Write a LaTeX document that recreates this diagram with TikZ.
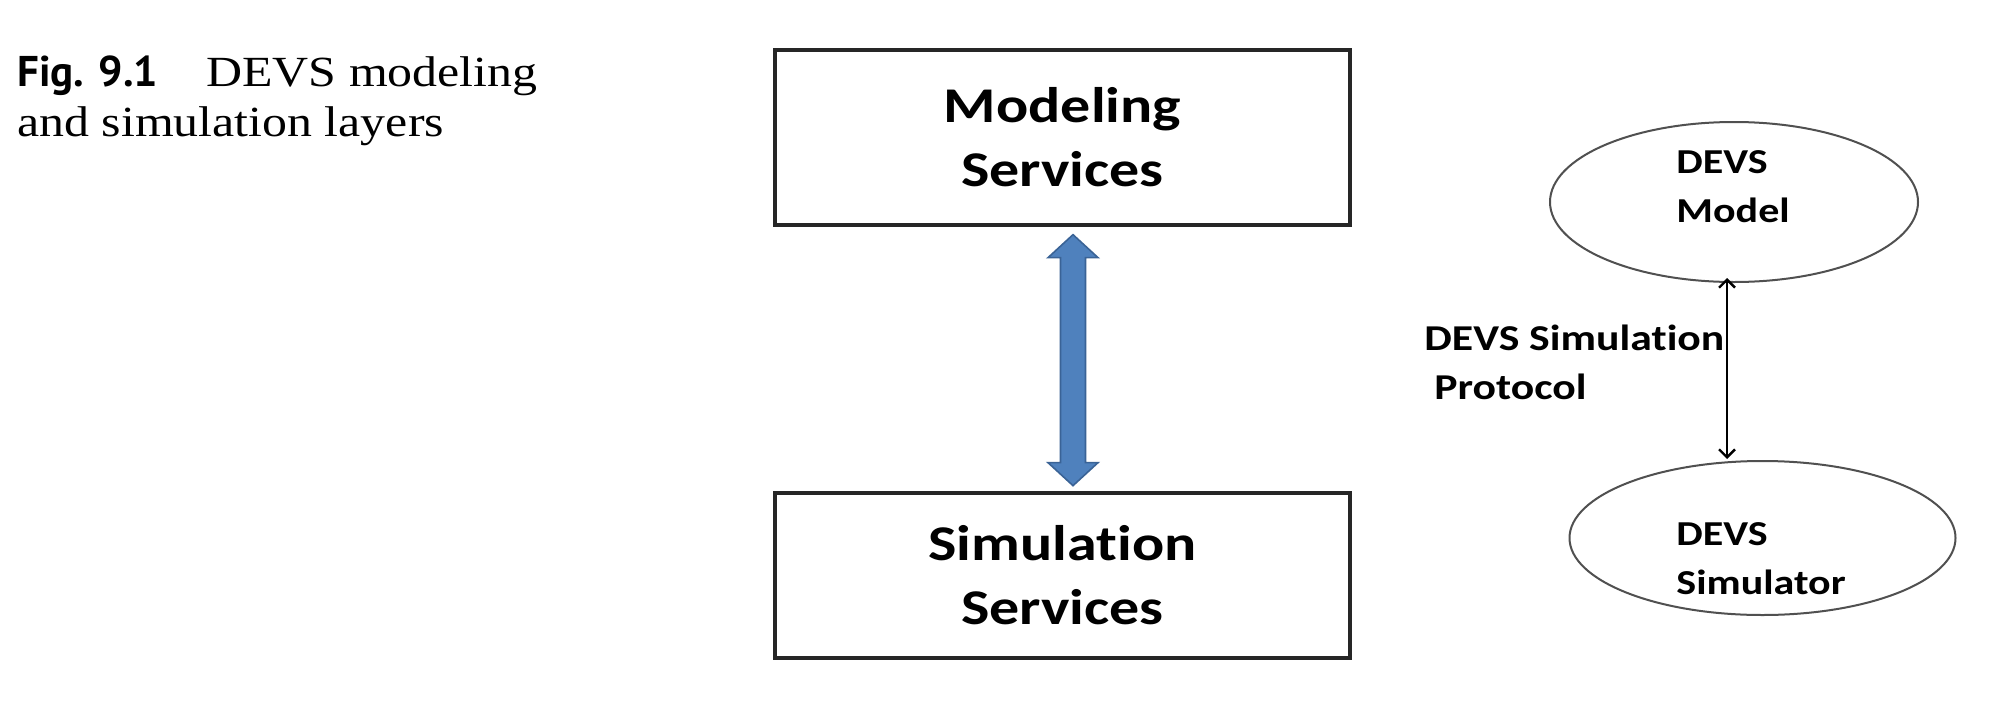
\documentclass[tikz,border=0pt]{standalone}
\usepackage{fontspec}
\usetikzlibrary{calc,arrows.meta,shapes.geometric}
\newfontfamily\calib[FakeStretch=1.2, Ligatures={NoCommon,NoContextual}]{Carlito}
\newfontfamily\capserif[FakeStretch=1.16]{Liberation Serif}
\newfontfamily\capsans{PT Sans}
\definecolor{arrowblue}{HTML}{4F81BD}
\definecolor{arrowedge}{HTML}{3A6396}
\definecolor{ellline}{HTML}{505050}
\begin{document}
\begin{tikzpicture}[x=0.5pt,y=-0.5pt,
  layerbox/.style={draw=black!85, line width=1.65pt, minimum width=287.5pt,
    inner sep=0pt, align=center, font=\calib\bfseries\fontsize{25}{32}\selectfont},
  devsell/.style={ellipse, draw=ellline, line width=1pt, inner sep=0pt},
  devstext/.style={anchor=base west, inner sep=0pt, align=left,
    font=\calib\bfseries\fontsize{17.5}{24.5}\selectfont},
  bluearrow/.style={fill=arrowblue, draw=arrowedge, line width=0.8pt, line join=miter},
  thinarrow/.style={draw=black, line width=1.2pt, {Straight Barb[length=4pt,width=8pt]}-{Straight Barb[length=4pt,width=8pt]}},
  capsty/.style={anchor=base west, inner sep=0pt}
]
\fill[white] (0,0) rectangle (1997,707);
\useasboundingbox (0,0) rectangle (1997,707);

% caption
\node[capsty, font=\capsans\bfseries\fontsize{21.5}{25}\selectfont] (capfig) at (17,86) {Fig. 9.1};
\node[capsty, font=\capserif\fontsize{21.5}{25}\selectfont] (capt1) at (206,86) {DEVS modeling};
\node[capsty, font=\capserif\fontsize{21.5}{25}\selectfont] (capt2) at (17,136) {and simulation layers};

% layer boxes
\node[layerbox, minimum height=87.5pt] (mod) at (1062.5,137.5) {Modeling\\Services};
\node[layerbox, minimum height=82.5pt] (sim) at (1062.5,575.5) {Simulation\\Services};

% blue double arrow
\coordinate (atop) at ($(mod.south)+(10.5,8)$);
\draw[bluearrow] (atop) -- ++(25,23) -- ++(-12.5,0) -- ++(0,205) -- ++(12.5,0)
  -- ++(-25,23) -- ++(-25,-23) -- ++(12.5,0) -- ++(0,-205) -- ++(-12.5,0) -- cycle;

% DEVS model / simulator
\node[devsell, minimum width=184pt, minimum height=80pt] (e1) at (1734,202) {};
\node[devsell, minimum width=193pt, minimum height=77pt] (e2) at (1762.5,538) {};
\node[devstext] (t1) at (1676,222) {DEVS\\Model};
\node[devstext] (t2) at (1676,594) {DEVS\\Simulator};

\coordinate (pa) at ($(e1.south)+(-7,-5)$);
\coordinate (pb) at ($(e2.north)+(-35.5,-1)$);
\draw[thinarrow] (pa) -- (pb);
\node[devstext, font=\calib\bfseries\fontsize{18.2}{24.5}\selectfont] (lab) at (1424,399) {DEVS Simulation\\\hspace*{5pt}Protocol};
\end{tikzpicture}
\end{document}
